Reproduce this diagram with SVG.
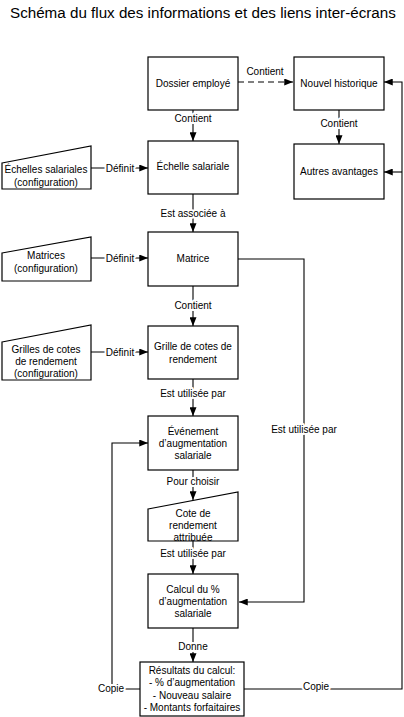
<svg xmlns="http://www.w3.org/2000/svg" width="404" height="717" viewBox="0 0 404 717">
<style>
text{font-family:"Liberation Sans",Arial,sans-serif;font-size:10px;fill:#000;text-anchor:middle}
.title{font-size:15.2px;text-anchor:start}
.box{fill:#fff;stroke:#000;stroke-width:1.2}
.ln{fill:none;stroke:#000;stroke-width:1.1}
.lbl{stroke:#fff;stroke-width:4;paint-order:stroke;stroke-linejoin:round}
</style>
<defs>
<marker id="ah" viewBox="0 0 10 8" refX="10" refY="4" markerWidth="9" markerHeight="7" markerUnits="userSpaceOnUse" orient="auto">
<path d="M0,0L10,4L0,8z" fill="#000"/>
</marker>
</defs>
<rect width="404" height="717" fill="#fff"/>
<text class="title" x="10" y="18">Schéma du flux des informations et des liens inter-écrans</text>

<g id="connectors">
<path class="ln" d="M238,82H293" stroke-dasharray="6,4" marker-end="url(#ah)"/>
<path class="ln" d="M339,110V144" marker-end="url(#ah)"/>
<path class="ln" d="M193,110V141" marker-end="url(#ah)"/>
<path class="ln" d="M91,168H148" marker-end="url(#ah)"/>
<path class="ln" d="M193,194V232" marker-end="url(#ah)"/>
<path class="ln" d="M91,258H148" marker-end="url(#ah)"/>
<path class="ln" d="M238,259H304V602H239" marker-end="url(#ah)"/>
<path class="ln" d="M193,286V326" marker-end="url(#ah)"/>
<path class="ln" d="M91,352H148" marker-end="url(#ah)"/>
<path class="ln" d="M193,379V416" marker-end="url(#ah)"/>
<path class="ln" d="M193,470V500" marker-end="url(#ah)"/>
<path class="ln" d="M193,541V574" marker-end="url(#ah)"/>
<path class="ln" d="M193,628V662" marker-end="url(#ah)"/>
<path class="ln" d="M140,689H112V443H148" marker-end="url(#ah)"/>
<path class="ln" d="M244,689H402V82H384" marker-end="url(#ah)"/>
<path class="ln" d="M402,172H384" marker-end="url(#ah)"/>
<text class="lbl" x="265" y="75">Contient</text>
<text class="lbl" x="339" y="127">Contient</text>
<text class="lbl" x="193" y="122">Contient</text>
<text class="lbl" x="120" y="172">Définit</text>
<text class="lbl" x="193" y="217">Est associée à</text>
<text class="lbl" x="120" y="262">Définit</text>
<text class="lbl" x="304" y="433">Est utilisée par</text>
<text class="lbl" x="193" y="309">Contient</text>
<text class="lbl" x="120" y="356">Définit</text>
<text class="lbl" x="193" y="397">Est utilisée par</text>
<text class="lbl" x="193" y="485">Pour choisir</text>
<text class="lbl" x="193" y="557">Est utilisée par</text>
<text class="lbl" x="193" y="650">Donne</text>
<text class="lbl" x="111" y="692">Copie</text>
<text class="lbl" x="316" y="690">Copie</text>
</g>

<g id="dossier"><rect class="box" x="148" y="57" width="90" height="53"/><text x="193" y="87">Dossier employé</text></g>
<g id="historique"><rect class="box" x="294" y="57" width="90" height="53"/><text x="339" y="87">Nouvel historique</text></g>
<g id="avantages"><rect class="box" x="294" y="144" width="90" height="55"/><text x="339" y="175">Autres avantages</text></g>
<g id="echelle"><rect class="box" x="148" y="141" width="90" height="53"/><text x="193" y="170">Échelle salariale</text></g>
<g id="echelles-config"><path class="box" d="M2,163L91,146V189H2z"/><text x="46" y="173">Échelles salariales</text><text x="46" y="186">(configuration)</text></g>
<g id="matrice"><rect class="box" x="148" y="232" width="90" height="54"/><text x="193" y="262">Matrice</text></g>
<g id="matrices-config"><path class="box" d="M2,253L91,237V281H2z"/><text x="46" y="259">Matrices</text><text x="46" y="272">(configuration)</text></g>
<g id="grille"><rect class="box" x="148" y="326" width="90" height="53"/><text x="193" y="350">Grille de cotes de</text><text x="193" y="363">rendement</text></g>
<g id="grilles-config"><path class="box" d="M2,342L91,325V380H2z"/><text x="46" y="353">Grilles de cotes</text><text x="46" y="365">de rendement</text><text x="46" y="377">(configuration)</text></g>
<g id="evenement"><rect class="box" x="148" y="416" width="90" height="54"/><text x="193" y="435">Événement</text><text x="193" y="447">d’augmentation</text><text x="193" y="459">salariale</text></g>
<g id="cote"><path class="box" d="M148,509L238,492V541H148z"/><text x="193" y="517">Cote de</text><text x="193" y="529">rendement</text><text x="193" y="541">attribuée</text></g>
<g id="calcul"><rect class="box" x="148" y="574" width="90" height="54"/><text x="193" y="593">Calcul du %</text><text x="193" y="605">d’augmentation</text><text x="193" y="617">salariale</text></g>
<g id="resultats"><rect class="box" x="140" y="662" width="104" height="54"/><text x="192" y="674">Résultats du calcul:</text><text x="192" y="686">- % d’augmentation</text><text x="192" y="699">- Nouveau salaire</text><text x="192" y="711">- Montants forfaitaires</text></g>
</svg>
